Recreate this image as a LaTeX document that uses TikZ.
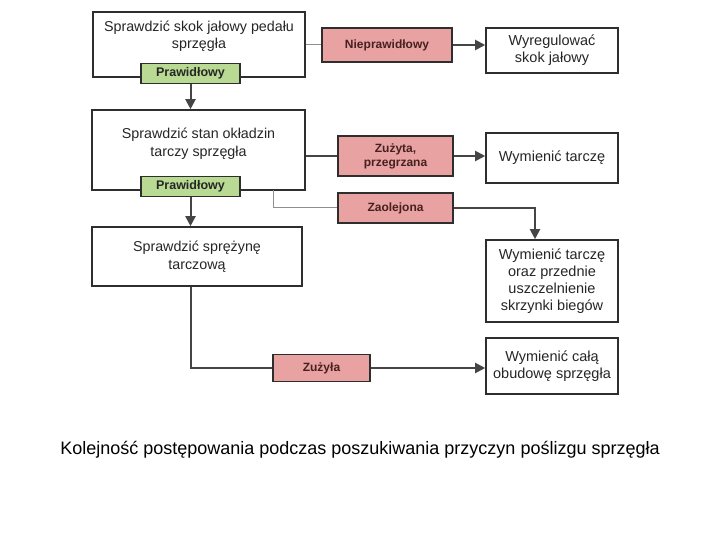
\documentclass[tikz,border=0pt]{standalone}
\usepackage{fontspec}
\setmainfont{Liberation Sans}
\usetikzlibrary{arrows.meta,positioning}
\definecolor{BoxLine}{HTML}{2E2E2E}
\definecolor{FlowLine}{HTML}{454545}
\definecolor{FaultRed}{HTML}{E8A2A2}
\definecolor{OkGreen}{HTML}{B8DA92}
\definecolor{Ink}{HTML}{262626}

\tikzset{
  checkbox/.style={draw=BoxLine,line width=1.6pt,fill=white,inner sep=0pt},
  fixbox/.style={draw=BoxLine,line width=1.6pt,fill=white,minimum width=132pt,align=center,font=\fontsize{14.5}{17}\selectfont,text=Ink},
  boxtext/.style={align=center,font=\fontsize{14.3}{17.5}\selectfont,text=Ink},
  faultbox/.style={draw=BoxLine,line width=1.5pt,fill=FaultRed,align=center,font=\fontsize{12}{14}\selectfont\bfseries,text=Ink!85!red},
  okbox/.style={draw=BoxLine,line width=1.5pt,fill=OkGreen,minimum width=99pt,minimum height=20pt,font=\fontsize{12.5}{14}\selectfont\bfseries,text=Ink},
  flow/.style={draw=FlowLine,line width=2pt},
  thinflow/.style={draw=FlowLine!60,line width=1pt},
  flowarrow/.style={flow,-{Triangle[length=10pt,width=10pt]}}
}

\begin{document}
\begin{tikzpicture}[x=1pt,y=-1pt]
  \useasboundingbox (0,0) rectangle (720,540);

  % lewa kolumna: kontrole
  \node[checkbox,minimum width=212pt,minimum height=65pt] (check1) at (199,44.5) {};
  \node[boxtext] at (199,36) {Sprawdzić skok jałowy pedału\\sprzęgła};
  \node[okbox] (ok1) at (190.5,73.5) {Prawidłowy};

  \node[checkbox,minimum width=213pt,minimum height=80pt] (check2) at (198.5,150) {};
  \node[boxtext] at (198.5,143.5) {Sprawdzić stan okładzin\\tarczy sprzęgła};
  \node[okbox] (ok2) at (190.5,186.5) {Prawidłowy};

  \node[checkbox,minimum width=210pt,minimum height=59pt,boxtext] (check3) at (197,256.5)
    {Sprawdzić sprężynę\\tarczową};

  % usterki
  \node[faultbox,minimum width=130pt,minimum height=34pt] (bad1) at (387,45) {Nieprawidłowy};
  \node[faultbox,minimum width=115pt,minimum height=40pt] (worn1) at (395.5,156) {Zużyta,\\przegrzana};
  \node[faultbox,minimum width=115pt,minimum height=30pt] (oily) at (395.5,208) {Zaolejona};
  \node[faultbox,minimum width=97pt,minimum height=27pt] (worn2) at (321.5,368) {Zużyła};

  % naprawy
  \node[fixbox,minimum height=45pt] (fix1) at (552,50.5) {Wyregulować\\skok jałowy};
  \node[fixbox,minimum height=50pt] (fix2) at (552,158) {Wymienić tarczę};
  \node[fixbox,minimum height=82pt] (fix3) at (552,281) {Wymienić tarczę\\oraz przednie\\uszczelnienie\\skrzynki biegów};
  \node[fixbox,minimum height=56pt] (fix4) at (552,366) {Wymienić całą\\obudowę sprzęgła};

  \coordinate (tap) at (273,190);

  % polaczenia
  \draw[flowarrow] (ok1.south) -- (ok1.south |- check2.north);
  \draw[flowarrow] (ok2.south) -- (ok2.south |- check3.north);
  \draw[thinflow] (check1.east |- bad1.west) -- (bad1.west);
  \draw[flowarrow] (bad1.east) -- (bad1.east -| fix1.west);
  \draw[flow] (check2.east |- worn1.west) -- (worn1.west);
  \draw[flowarrow] (worn1.east) -- (worn1.east -| fix2.west);
  \draw[thinflow] (tap) |- (oily.west);
  \draw[flowarrow] (oily.east) -| ([xshift=-17pt]fix3.north);
  \draw[flow] (ok1.south |- check3.south) |- (worn2.west);
  \draw[flowarrow] (worn2.east) -- (worn2.east -| fix4.west);

  \node[font=\fontsize{18}{21}\selectfont,text=black] (caption) at (360,450)
    {Kolejność postępowania podczas poszukiwania przyczyn poślizgu sprzęgła};
\end{tikzpicture}
\end{document}
